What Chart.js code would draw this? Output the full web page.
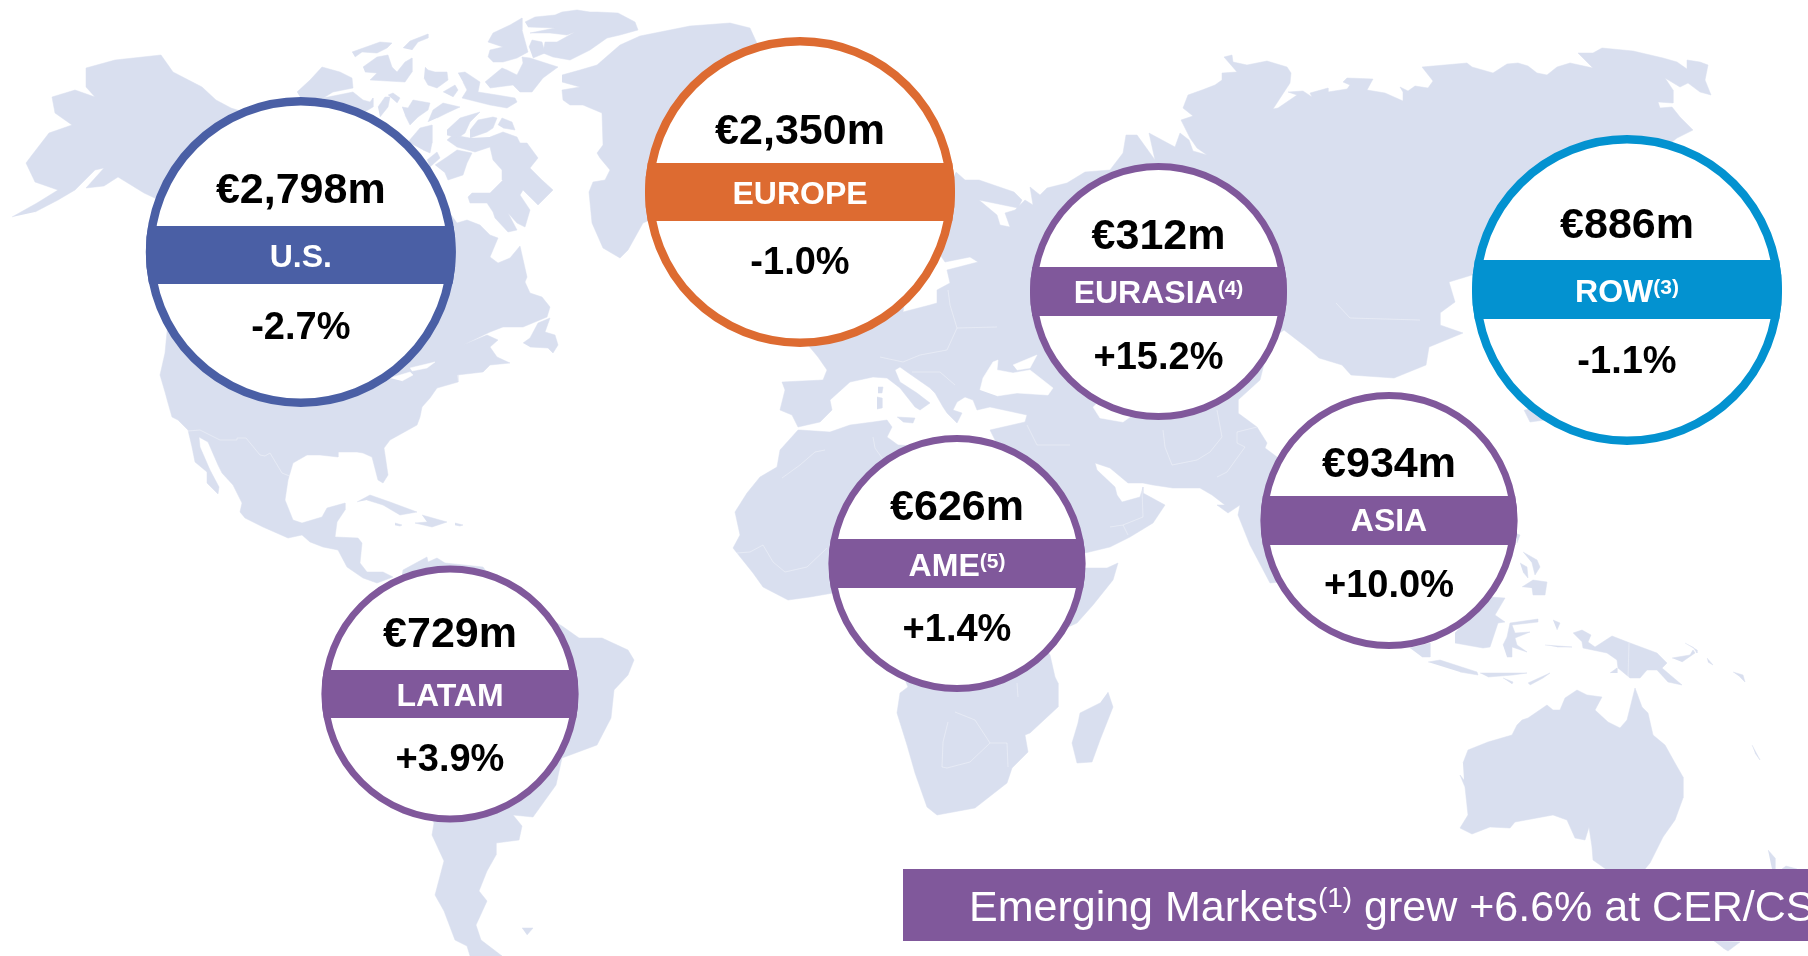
<!DOCTYPE html>
<html>
<head>
<meta charset="utf-8">
<title>Sales by region</title>
<script src="https://cdn.jsdelivr.net/npm/chart.js@4/dist/chart.umd.min.js"></script>
<style>
  html, body { margin: 0; padding: 0; background: #fff; overflow: hidden; }
  #wrap { position: relative; width: 1808px; height: 956px; }
</style>
</head>
<body>
<div id="wrap"><canvas id="map-chart"></canvas></div>
<script>
// Values
const regions = ['U.S.', 'EUROPE', 'EURASIA', 'ROW', 'ASIA', 'AME', 'LATAM'];
const footnotes = ['', '', '(4)', '(3)', '', '(5)', ''];
const sales = [2798, 2350, 312, 886, 934, 626, 729];
const growth = [-2.7, -1.0, 15.2, -1.1, 10.0, 1.4, 3.9];

// Where the circles sit, in picture pixels
const circleX = [300.8, 800, 1158.5, 1627, 1389, 957, 450];
const circleY = [252, 192, 291.5, 290, 520.5, 563.5, 694];
const circleR = [155, 155, 128.5, 155, 128.5, 128.5, 128.5];
const ringWidth = [8.5, 8.5, 7, 8.5, 7, 7, 7];
const bandTop = [226, 163, 267, 260, 496, 539, 670];
const bandBottom = [284, 221, 316, 319, 545, 588, 718];
const salesBase = [203, 144, 248.5, 238, 477, 520, 647];
const labelBase = [267, 204, 302.5, 302, 531, 576, 706];
const growthBase = [339, 274, 368.5, 373, 597, 640.5, 771];
const regionColors = ['#4a5fa5', '#dd6b31', '#80589b', '#0392d0', '#80589b', '#80589b', '#80589b'];

// -------------------- Map outlines ----------------------------------------------
const northAmerica = [[12,217],[37,203],[58,190],[35,182],[26,163],[32,155],[49,133],[72,125],[55,113],[52,97],[75,90],[95,97],[86,87],[86,68],[115,60],[161,55],[173,72],[202,87],[216,100],[231,108],[300,130],[440,200],[457,223],[467,220],[480,225],[490,235],[498,238],[490,257],[498,263],[510,258],[520,246],[527,277],[525,282],[530,293],[542,297],[550,307],[547,317],[523,327],[503,327],[490,332],[463,345],[487,335],[498,340],[490,347],[497,357],[510,363],[490,365],[483,372],[457,375],[458,382],[437,388],[430,398],[422,407],[420,417],[417,425],[390,440],[384,448],[388,475],[383,483],[378,480],[372,457],[363,453],[357,452],[338,452],[338,457],[320,455],[307,455],[293,463],[288,480],[285,500],[293,520],[302,523],[322,517],[327,508],[345,503],[345,510],[337,522],[335,537],[358,538],[362,543],[360,563],[367,572],[383,572],[393,577],[377,583],[363,578],[347,567],[338,550],[323,547],[310,542],[302,535],[288,538],[263,527],[245,518],[240,512],[242,503],[233,485],[222,473],[218,465],[208,442],[199,437],[200,447],[210,470],[219,487],[218,494],[207,483],[207,472],[195,462],[192,447],[188,430],[178,420],[172,417],[168,403],[165,392],[160,375],[165,353],[170,300],[170,215],[159,200],[144,193],[118,177],[104,186],[86,188],[104,168],[95,170],[75,190],[58,200],[35,212]];
const greenland = [[562,75],[580,70],[597,65],[605,58],[620,45],[640,36],[690,26],[730,23],[750,28],[760,50],[700,200],[650,220],[643,223],[628,250],[620,258],[603,248],[592,223],[589,192],[593,182],[605,180],[610,170],[600,158],[597,153],[603,145],[602,113],[583,105],[570,105],[563,100],[562,90],[580,87],[562,82]];
const arctic1 = [[297,92],[310,80],[322,67],[340,72],[352,78],[353,88],[333,92],[320,100],[305,105]];
const arctic2 = [[323,98],[353,92],[363,100],[370,102],[373,98],[373,107],[363,113],[335,125]];
const arctic3 = [[378,107],[385,97],[390,97],[388,107],[380,117]];
const arctic4 = [[388,95],[393,93],[400,98],[397,103]];
const arctic5 = [[352,52],[380,42],[392,43],[387,48],[377,53],[362,52],[355,57]];
const arctic6 = [[363,67],[377,57],[388,55],[392,67],[397,72],[405,62],[412,58],[412,72],[405,82],[370,80],[377,73],[365,72]];
const arctic7 = [[403,48],[410,41],[428,34],[428,38],[418,42],[412,50]];
const arctic8 = [[425,67],[428,70],[435,72],[447,72],[448,80],[437,88],[428,85],[424,78]];
const arctic9 = [[443,92],[455,85],[458,90],[453,97]];
const arctic10 = [[458,73],[465,72],[480,82],[478,92],[497,95],[515,98],[517,102],[507,108],[490,105],[462,98],[467,90],[463,82]];
const arctic11 = [[485,82],[502,68],[507,70],[517,75],[523,63],[522,57],[530,58],[558,67],[543,78],[532,92],[520,92],[513,85],[490,88]];
const arctic12 = [[488,57],[490,50],[503,47],[488,42],[493,33],[510,25],[522,18],[522,30],[528,52],[517,58],[503,62],[493,62]];
const arctic13 = [[529,47],[532,40],[542,42],[545,53],[533,58]];
const ellesmere = [[525,22],[535,17],[555,15],[562,12],[577,10],[590,12],[597,12],[618,13],[635,22],[638,30],[620,35],[607,38],[590,50],[570,60],[553,57],[543,53],[545,42],[557,42],[575,32],[567,35],[550,33],[530,33],[555,28],[528,27]];
const arctic14 = [[402,107],[408,108],[413,100],[430,103],[428,110],[418,117],[410,125],[405,115]];
const arctic15 = [[428,122],[433,110],[443,103],[460,107],[447,113],[437,118]];
const arctic16 = [[408,142],[420,128],[432,125],[432,143],[430,153],[423,150]];
const arctic17 = [[447,130],[460,118],[480,112],[470,122],[465,133],[458,138],[447,135]];
const arctic18 = [[470,130],[478,120],[493,117],[497,118],[493,128],[487,132],[470,138]];
const arctic19 = [[498,125],[502,118],[512,122],[515,130],[503,128]];
const baffin = [[490,137],[503,132],[517,137],[520,143],[527,143],[538,158],[530,168],[542,180],[553,190],[538,205],[530,197],[523,190],[520,195],[530,210],[525,227],[517,223],[508,213],[517,230],[508,232],[495,218],[493,212],[487,203],[470,203],[468,197],[472,193],[490,193],[503,180],[502,170],[493,160],[490,147],[475,152],[457,147],[447,140],[453,135],[470,138]];
const arctic20 = [[435,165],[447,157],[457,150],[472,153],[467,163],[463,175],[448,180],[445,173]];
const arctic21 = [[427,160],[437,152],[440,158],[430,167]];
const newfoundland = [[523,343],[530,338],[538,323],[550,318],[545,332],[555,335],[558,345],[553,353],[548,348],[530,347]];
const cuba = [[357,502],[370,495],[390,502],[417,512],[400,515],[383,505],[367,500]];
const hispaniola = [[422,515],[447,522],[432,527],[415,523],[427,522]];
const jamaica = [[395,523],[402,525],[400,526],[395,525]];
const puertoRico = [[455,523],[463,525],[460,526],[455,525]];
const southAmerica = [[400,590],[403,570],[427,557],[428,562],[437,558],[445,563],[483,567],[500,590],[562,626],[579,638],[602,638],[628,650],[634,660],[628,675],[614,690],[611,718],[597,745],[562,758],[556,785],[533,817],[513,815],[522,826],[519,840],[496,843],[496,855],[487,871],[479,891],[487,901],[476,925],[481,940],[502,956],[470,956],[467,946],[455,940],[444,911],[435,895],[444,861],[432,835],[434,823],[400,750]];
const falkland = [[522,928],[533,928],[527,935]];
const afroEurasia = [[956,172],[965,180],[979,180],[1014,192],[1022,200],[1018,208],[979,200],[997,215],[1000,225],[1010,227],[1005,213],[1015,210],[1025,200],[1033,205],[1030,187],[1040,195],[1047,188],[1067,183],[1085,172],[1110,170],[1123,153],[1126,135],[1137,135],[1155,160],[1149,133],[1175,147],[1180,133],[1189,140],[1193,151],[1207,155],[1197,148],[1190,138],[1181,120],[1193,116],[1183,108],[1188,95],[1202,90],[1215,85],[1222,80],[1222,73],[1237,72],[1224,57],[1232,55],[1233,62],[1247,65],[1267,61],[1287,67],[1291,73],[1290,83],[1273,109],[1278,108],[1297,95],[1288,92],[1303,91],[1312,97],[1310,93],[1328,88],[1328,92],[1347,89],[1350,85],[1343,82],[1347,78],[1373,79],[1367,90],[1385,93],[1403,101],[1403,92],[1400,87],[1408,91],[1415,86],[1428,88],[1433,81],[1422,67],[1467,63],[1472,67],[1493,73],[1507,64],[1518,63],[1528,66],[1537,73],[1547,75],[1557,67],[1570,63],[1593,68],[1578,53],[1593,53],[1602,48],[1633,51],[1663,58],[1677,62],[1687,69],[1687,60],[1700,62],[1708,65],[1705,80],[1711,95],[1700,92],[1688,83],[1680,87],[1665,78],[1673,90],[1673,103],[1658,102],[1660,108],[1672,107],[1680,117],[1693,130],[1677,138],[1600,200],[1490,270],[1472,275],[1449,282],[1455,302],[1440,313],[1440,325],[1463,333],[1429,347],[1426,365],[1394,378],[1351,375],[1342,365],[1319,358],[1310,350],[1284,330],[1270,340],[1260,380],[1238,400],[1238,413],[1257,427],[1267,443],[1265,448],[1277,457],[1300,480],[1300,580],[1270,583],[1250,545],[1238,515],[1240,505],[1228,513],[1217,505],[1225,505],[1212,495],[1200,488],[1173,488],[1153,485],[1143,483],[1128,483],[1110,468],[1095,463],[1097,470],[1115,487],[1117,495],[1122,502],[1140,497],[1143,487],[1143,493],[1165,505],[1153,523],[1130,537],[1110,547],[1085,553],[1060,560],[1085,568],[1107,568],[1118,563],[1113,580],[1093,605],[1077,623],[1040,640],[1050,655],[1055,677],[1058,683],[1058,707],[1030,733],[1025,735],[1028,752],[1012,768],[1007,783],[975,808],[937,815],[927,807],[915,773],[907,745],[897,713],[900,693],[908,687],[880,620],[833,593],[810,597],[788,600],[763,587],[753,573],[733,548],[740,535],[735,512],[747,493],[760,477],[777,467],[780,450],[798,430],[800,430],[830,432],[850,425],[873,422],[887,420],[892,427],[887,437],[898,445],[1000,450],[990,430],[1025,422],[1027,415],[990,407],[977,410],[973,400],[965,397],[957,402],[953,410],[962,413],[957,423],[947,413],[943,407],[935,393],[930,388],[907,372],[900,367],[895,370],[900,382],[917,393],[930,403],[920,410],[915,407],[900,388],[887,378],[873,377],[850,382],[830,400],[832,410],[820,422],[798,427],[792,415],[780,410],[785,390],[782,382],[823,380],[827,370],[818,357],[808,345],[905,300],[903,312],[930,305],[937,303],[937,290],[950,283],[947,270],[978,262],[970,257],[945,262],[930,240],[945,190]];
const sicily = [[897,417],[915,418],[913,423],[903,422]];
const sardinia = [[877,397],[882,398],[882,408],[877,409]];
const corsica = [[878,387],[883,387],[882,393],[878,393]];
const madagascar = [[1108,692],[1113,707],[1100,740],[1092,762],[1077,763],[1072,743],[1078,723],[1080,713],[1100,703]];
const koreaTip = [[1524,410],[1530,422],[1545,420],[1545,405]];
const sumatra = [[1410,648],[1430,643],[1430,657],[1422,657]];
const java = [[1428,662],[1440,660],[1477,672],[1478,675],[1460,672]];
const lesserSunda = [[1480,673],[1527,673],[1513,675],[1488,677]];
const flores = [[1503,678],[1513,682],[1512,684]];
const timor = [[1528,683],[1550,673],[1543,678],[1530,685]];
const borneo = [[1455,643],[1483,648],[1490,647],[1498,623],[1505,622],[1495,615],[1505,598],[1490,597],[1467,620],[1455,633]];
const sulawesi = [[1507,657],[1512,657],[1512,647],[1527,652],[1517,645],[1515,638],[1530,632],[1515,633],[1512,625],[1538,622],[1538,619],[1510,623],[1507,637],[1503,645]];
const halmahera = [[1553,620],[1560,623],[1557,630]];
const seram = [[1545,645],[1572,647],[1557,647]];
const mindanao = [[1522,587],[1533,580],[1547,582],[1545,595],[1533,595],[1532,588]];
const visayas = [[1520,563],[1527,567],[1528,578],[1523,572]];
const luzon = [[1523,552],[1537,560],[1540,567],[1535,575],[1532,563]];
const batanes = [[1515,533],[1520,535],[1517,543]];
const newGuinea = [[1573,633],[1582,630],[1591,635],[1588,642],[1595,647],[1612,636],[1630,643],[1657,653],[1667,663],[1662,668],[1682,685],[1668,682],[1657,670],[1647,670],[1640,678],[1630,678],[1618,668],[1617,660],[1607,653],[1583,648],[1582,642]];
const aru = [[1610,673],[1617,668],[1617,673]];
const newBritain = [[1672,658],[1690,655],[1693,650],[1695,653],[1682,662]];
const newIreland = [[1685,643],[1697,650],[1697,653],[1693,647]];
const solomon1 = [[1707,658],[1713,665],[1708,662]];
const solomon2 = [[1733,672],[1743,675],[1745,682],[1740,677]];
const newCaledonia = [[1752,745],[1760,760],[1755,753]];
const australia = [[1463,763],[1468,750],[1488,742],[1512,735],[1517,725],[1522,720],[1528,718],[1547,705],[1553,710],[1560,710],[1565,698],[1577,690],[1587,695],[1602,697],[1595,710],[1608,722],[1620,728],[1627,720],[1635,688],[1642,707],[1648,713],[1653,735],[1665,745],[1675,763],[1683,777],[1683,798],[1675,820],[1663,837],[1650,863],[1640,875],[1625,875],[1610,872],[1593,860],[1592,847],[1589,827],[1585,840],[1575,838],[1567,820],[1553,815],[1515,822],[1510,828],[1490,827],[1472,834],[1460,828],[1468,815],[1465,787],[1460,775],[1464,780]];
const newZealandN = [[1768,850],[1775,858],[1775,869],[1772,869]];
const newZealandE = [[1782,869],[1786,866],[1797,869]];
const newZealandS = [[1714,941],[1740,942],[1728,951],[1723,948]];

const landShapes = [northAmerica, greenland, arctic1, arctic2, arctic3, arctic4, arctic5, arctic6, arctic7, arctic8, arctic9, arctic10, arctic11, arctic12, arctic13, ellesmere, arctic14, arctic15, arctic16, arctic17, arctic18, arctic19, baffin, arctic20, arctic21, newfoundland, cuba, hispaniola, jamaica, puertoRico, southAmerica, falkland, afroEurasia, sicily, sardinia, corsica, madagascar, koreaTip, sumatra, java, lesserSunda, flores, timor, borneo, sulawesi, halmahera, seram, mindanao, visayas, luzon, batanes, newGuinea, aru, newBritain, newIreland, solomon1, solomon2, newCaledonia, australia, newZealandN, newZealandE, newZealandS];

// Seas and lakes sit on top of the land
const blackSea = [[980,390],[983,378],[993,362],[998,360],[997,370],[1013,373],[1030,370],[1053,388],[1048,395],[1017,393],[997,396]];
const azovSea = [[1013,365],[1037,355],[1030,368],[1017,370]];
const caspianSea = [[1093,407],[1100,418],[1123,422],[1130,417],[1130,400],[1100,400]];
const lakeErie = [[390,378],[410,372],[413,375],[402,381]];
const lakeOntario = [[410,368],[435,362],[427,368],[412,371]];
const baffinLake = [[482,170],[487,168],[495,170],[493,175],[484,176]];
const waterShapes = [blackSea, azovSea, caspianSea, lakeErie, lakeOntario, baffinLake];

// Thin white country borders
const usBorder = [[188,431],[200,430],[220,440],[237,440],[237,438],[246,438],[260,455],[265,456],[270,453],[282,473],[292,477]];
const euBorder1 = [[997,327],[957,328],[947,350],[920,355],[903,362],[880,357]];
const euBorder2 = [[957,328],[950,305],[948,290]];
const euBorder3 = [[912,372],[940,372],[955,385]];
const algeriaBorder = [[873,437],[875,448],[882,458]];
const sahelBorder = [[737,553],[750,552],[763,545],[773,562],[785,572],[807,567],[827,548]];
const saharaBorder = [[782,478],[800,465],[815,452],[825,450]];
const africaBorder1 = [[942,767],[947,768],[970,762],[990,743],[1007,743],[1008,767]];
const africaBorder2 = [[948,722],[943,742],[942,767]];
const africaBorder3 = [[1017,683],[1018,697]];
const africaBorder4 = [[955,712],[975,720],[990,743]];
const arabiaBorder1 = [[1110,527],[1123,525],[1143,517],[1142,490]];
const arabiaBorder2 = [[1123,525],[1128,535]];
const indiaBorder = [[1217,477],[1227,472],[1245,447],[1237,443],[1237,432],[1257,427]];
const iranBorder = [[1163,430],[1165,447],[1172,465],[1197,460],[1210,452],[1222,437],[1217,410]];
const syriaBorder = [[1027,425],[1037,445],[1070,445]];
const pngBorder = [[1629,643],[1628,678]];
const russiaBorder = [[1336,303],[1350,318],[1420,320]];
const borderLines = [usBorder, euBorder1, euBorder2, euBorder3, algeriaBorder, sahelBorder, saharaBorder, africaBorder1, africaBorder2, africaBorder3, africaBorder4, arabiaBorder1, arabiaBorder2, indiaBorder, iranBorder, syriaBorder, pngBorder, russiaBorder];

// Bottom strip
const bannerX = [903, 1808];
const bannerY = [869, 941];
const bannerParts = ['Emerging Markets', '(1)', ' grew +6.6% at CER/CS'];

const landColor = '#d9dfef';
const bannerColor = '#80589b';
const fontName = '"Liberation Sans", Arial, sans-serif';

// ----------------- Small text helpers --------------------
function salesText(v) {
    return '€' + v.toLocaleString('en-US') + 'm';
}

function growthText(v) {
    return (v > 0 ? '+' : '') + v.toFixed(1) + '%';
}

function shapeData(shape) {
    return shape.map(p => ({ x: p[0], y: p[1] }));
}

// ----------------- Bands, banner and all text go on top of the bubbles -------------
const overlayPlugin = {
    id: 'overlay',
    afterDatasetsDraw(chart) {
        const ctx = chart.ctx;
        const sx = chart.scales.x;
        const sy = chart.scales.y;
        ctx.save();
        ctx.textBaseline = 'alphabetic';

        regions.forEach((name, i) => {
            const cx = sx.getPixelForValue(circleX[i]);
            const top = sy.getPixelForValue(bandTop[i]);
            const bottom = sy.getPixelForValue(bandBottom[i]);

            ctx.save();
            ctx.beginPath();
            ctx.arc(cx, sy.getPixelForValue(circleY[i]), circleR[i], 0, Math.PI * 2);
            ctx.clip();
            ctx.fillStyle = regionColors[i];
            ctx.fillRect(cx - circleR[i], top, circleR[i] * 2, bottom - top);
            ctx.restore();

            ctx.textAlign = 'center';
            ctx.fillStyle = '#000';
            ctx.font = 'bold 43px ' + fontName;
            ctx.fillText(salesText(sales[i]), cx, sy.getPixelForValue(salesBase[i]));
            ctx.font = 'bold 38px ' + fontName;
            ctx.fillText(growthText(growth[i]), cx, sy.getPixelForValue(growthBase[i]));

            // label and its footnote are centred together
            ctx.textAlign = 'left';
            ctx.fillStyle = '#fff';
            ctx.font = 'bold 32px ' + fontName;
            const labelWidth = ctx.measureText(name).width;
            ctx.font = 'bold 21px ' + fontName;
            const noteWidth = ctx.measureText(footnotes[i]).width;
            const startX = cx - (labelWidth + noteWidth) / 2;
            const base = sy.getPixelForValue(labelBase[i]);
            ctx.font = 'bold 32px ' + fontName;
            ctx.fillText(name, startX, base);
            ctx.font = 'bold 21px ' + fontName;
            ctx.fillText(footnotes[i], startX + labelWidth, base - 8);
        });

        // Banner
        const bx = sx.getPixelForValue(bannerX[0]);
        const by = sy.getPixelForValue(bannerY[0]);
        ctx.fillStyle = bannerColor;
        ctx.fillRect(bx, by, sx.getPixelForValue(bannerX[1]) - bx, sy.getPixelForValue(bannerY[1]) - by);
        ctx.fillStyle = '#fff';
        ctx.textAlign = 'left';
        let tx = sx.getPixelForValue(969);
        const bannerBase = sy.getPixelForValue(921);
        ctx.font = '43px ' + fontName;
        ctx.fillText(bannerParts[0], tx, bannerBase);
        tx += ctx.measureText(bannerParts[0]).width;
        ctx.font = '28px ' + fontName;
        ctx.fillText(bannerParts[1], tx, bannerBase - 14);
        tx += ctx.measureText(bannerParts[1]).width;
        ctx.font = '43px ' + fontName;
        ctx.fillText(bannerParts[2], tx, bannerBase);

        ctx.restore();
    }
};

// ----------------- Chart.js Code --------------------------
const datasets = [];

landShapes.forEach(shape => {
    datasets.push({
        type: 'scatter', data: shapeData(shape), showLine: true, fill: 'shape',
        backgroundColor: landColor, borderColor: landColor, borderWidth: 0.5,
        pointRadius: 0, tension: 0, order: 4
    });
});

waterShapes.forEach(shape => {
    datasets.push({
        type: 'scatter', data: shapeData(shape), showLine: true, fill: 'shape',
        backgroundColor: '#fff', borderColor: '#fff', borderWidth: 0.5,
        pointRadius: 0, tension: 0, order: 3
    });
});

borderLines.forEach(line => {
    datasets.push({
        type: 'scatter', data: shapeData(line), showLine: true, fill: false,
        borderColor: 'rgba(255,255,255,0.5)', borderWidth: 0.7,
        pointRadius: 0, tension: 0, order: 2
    });
});

datasets.push({
    type: 'bubble',
    label: 'Regions',
    data: regions.map((name, i) => ({ x: circleX[i], y: circleY[i], r: circleR[i] - ringWidth[i] / 2 })),
    backgroundColor: '#fff',
    borderColor: regionColors,
    borderWidth: ringWidth,
    hoverRadius: 0,
    clip: false,
    order: 1
});

new Chart(document.getElementById('map-chart'), {
    data: { datasets: datasets },
    options: {
        responsive: true,
        maintainAspectRatio: false,
        animation: false,
        layout: { padding: 0, autoPadding: false },
        plugins: { legend: { display: false }, tooltip: { enabled: false } },
        scales: {
            x: { type: 'linear', min: 0, max: 1808, display: false },
            y: { type: 'linear', min: 0, max: 956, reverse: true, display: false }
        }
    },
    plugins: [overlayPlugin]
});
</script>
</body>
</html>
